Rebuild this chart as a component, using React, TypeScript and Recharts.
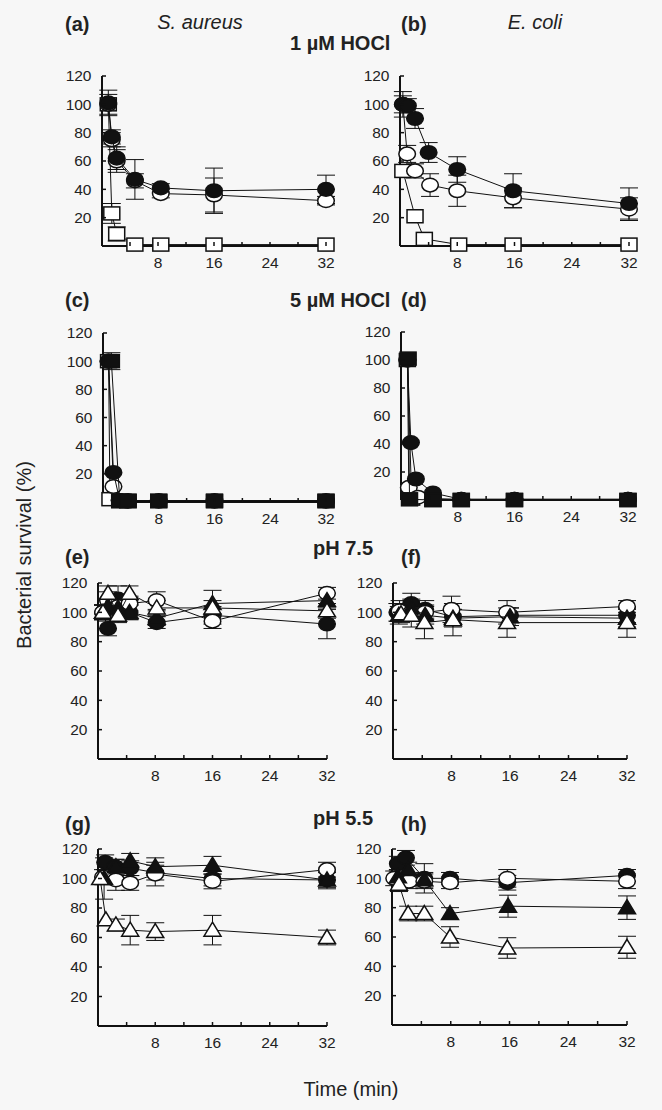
import React from 'react';
import { ScatterChart, Scatter, XAxis, YAxis, ErrorBar } from 'recharts';

type Pt = { t: number; v: number; e: number };
const mk = (t: number[], v: number[], e: number[]): Pt[] =>
  t.map((x, i) => ({ t: x, v: v[i], e: e[i] }));

// ---- tick labels ----
const xTickValues = [4, 8, 12, 16, 20, 24, 28, 32];
const xLabelValues = [8, 16, 24, 32];
const yTickValues = [20, 40, 60, 80, 100, 120];

// ---- (a) S. aureus, 1 µM HOCl ----
const aFilledCircle = mk([0.9, 1.4, 2.1, 4.7, 8.4, 16, 32], [101, 77, 62, 47, 41, 39, 40], [9, 5, 8, 14, 3, 16, 10]);
const aOpenCircle = mk([0.9, 1.4, 2.1, 4.7, 8.4, 16, 32], [100, 75, 60, 46, 37, 36, 32], [7, 5, 8, 5, 3, 12, 3]);
const aOpenSquare = mk([0.9, 1.4, 2.1, 4.7, 8.4, 16, 32], [100, 23, 8.5, 1, 1, 1, 1], [0, 7, 5, 0, 0, 0, 0]);

// ---- (b) E. coli, 1 µM HOCl ----
const bFilledCircle = mk([0.4, 1.1, 2.1, 4.0, 8.0, 15.8, 32], [100, 99, 90, 66, 54, 39, 30], [9, 5, 7, 7, 9, 12, 11]);
const bOpenCircle = mk([0.4, 1.0, 2.1, 4.2, 8.0, 15.8, 32], [100, 65, 53, 43, 39, 34, 26], [6, 6, 5, 8, 11, 7, 8]);
const bOpenSquare = mk([0.4, 2.1, 3.4, 8.2, 15.8, 32], [53, 21, 5, 1, 1, 1], [0, 0, 0, 0, 0, 0]);

// ---- (c) S. aureus, 5 µM HOCl ----
const cOpenSquare = mk([0.8, 1.0, 2.4, 3.6, 8, 16, 32], [100, 2, 0.5, 0.5, 0.5, 0.5, 0.5], [0, 0, 0, 0, 0, 0, 0]);
const cOpenCircle = mk([0.8, 1.5, 2.4, 3.6, 8, 16, 32], [100, 11, 1, 0.5, 0.5, 0.5, 0.5], [0, 0, 0, 0, 0, 0, 0]);
const cFilledCircle = mk([0.8, 1.5, 2.4, 3.6, 8, 16, 32], [100, 21, 1, 1, 1, 1, 1], [0, 0, 0, 0, 0, 0, 0]);
const cFilledSquare = mk([1.2, 2.4, 3.6, 8, 16, 32], [100, 1, 1, 1, 1, 1], [6, 0, 0, 0, 0, 0]);

// ---- (d) E. coli, 5 µM HOCl ----
const dOpenSquare = mk([0.9, 1.5, 4.5, 8.5, 16, 32], [100, 1, 0, 0, 0, 0], [0, 0, 0, 0, 0, 0]);
const dOpenCircle = mk([0.9, 1.1, 2.4, 4.5, 8.5, 16, 32], [100, 9, 2, 1, 0.5, 0.5, 0.5], [0, 0, 0, 0, 0, 0, 0]);
const dFilledCircle = mk([0.9, 1.4, 2.1, 4.5, 8.5, 16, 32], [100, 41, 15, 5, 0.5, 0.5, 0.5], [0, 0, 0, 0, 0, 0, 0]);
const dFilledSquare = mk([1.0, 1.2, 4.5, 8.5, 16, 32], [101, 0.5, 0, 0, 0, 0], [0, 0, 0, 0, 0, 0]);

// ---- (e) S. aureus, pH 7.5 ----
const eFilledCircle = mk([0.7, 1.4, 2.8, 4.4, 8.2, 16, 32], [100, 89, 109, 100, 93, 98, 92], [5, 5, 9, 5, 4, 6, 10]);
const eOpenCircle = mk([0.7, 1.4, 2.8, 4.4, 8.2, 16, 32], [100, 108, 104, 106, 108, 94, 113], [5, 6, 5, 5, 6, 5, 4]);
const eFilledTriangle = mk([0.7, 1.4, 2.8, 4.4, 8.2, 16, 32], [100, 104, 103, 100, 96, 106, 108], [5, 5, 5, 5, 5, 9, 5]);
const eOpenTriangle = mk([0.7, 1.4, 2.8, 4.4, 8.2, 16, 32], [100, 113, 98, 113, 103, 103, 101], [5, 5, 5, 5, 5, 5, 5]);

// ---- (f) E. coli, pH 7.5 ----
const fFilledCircle = mk([0.6, 2.5, 4.4, 8.2, 16, 32], [100, 106, 102, 97, 98, 98], [6, 7, 6, 5, 5, 5]);
const fOpenCircle = mk([0.9, 2.5, 4.4, 8, 15.6, 32], [101, 100, 100, 102, 100, 104], [7, 5, 5, 9, 8, 4]);
const fFilledTriangle = mk([0.8, 2.5, 4.4, 8.2, 16, 32], [98, 103, 98, 96, 97, 96], [6, 6, 6, 6, 6, 6]);
const fOpenTriangle = mk([1.1, 2.5, 4.3, 8.2, 15.6, 32], [99, 98, 93, 95, 93, 93], [6, 8, 11, 11, 10, 10]);

// ---- (g) S. aureus, pH 5.5 ----
const gFilledCircle = mk([1.0, 2.4, 4.5, 8, 16, 32], [111, 108, 107, 104, 100, 99], [5, 5, 5, 5, 5, 5]);
const gOpenCircle = mk([0.7, 2.5, 4.5, 8, 16, 32], [101, 99, 97, 103, 98, 106], [5, 7, 5, 8, 5, 5]);
const gFilledTriangle = mk([0.85, 2.5, 4.5, 8, 16, 32], [100, 108, 112, 108, 109, 99], [14, 5, 5, 6, 6, 6]);
const gOpenTriangle = mk([0.3, 1.1, 2.5, 4.5, 8, 16, 32], [100, 72, 68.5, 65, 64, 65, 60], [0, 0, 4, 10, 6, 10, 5]);

// ---- (h) E. coli, pH 5.5 ----
const hFilledCircle = mk([0.8, 1.9, 4.4, 7.9, 15.7, 32], [110, 114, 100, 100, 97, 102], [5, 5, 10, 4, 5, 4]);
const hOpenCircle = mk([0.3, 2.3, 4.4, 7.9, 15.7, 32], [100, 98, 98, 97, 100, 98], [5, 5, 5, 4, 6, 5]);
const hFilledTriangle = mk([0.8, 2.2, 4.4, 7.9, 15.8, 32], [101, 106, 99, 76, 81, 80], [5, 5, 5, 4, 7.5, 8]);
const hOpenTriangle = mk([0.95, 2.2, 4.4, 7.9, 15.7, 32], [96, 76, 76, 60, 52.5, 53], [5, 5, 5, 7, 7, 7.5]);

type Kind = 'circle' | 'square' | 'triangle';
type Series = { data: Pt[]; kind: Kind; filled: boolean };

const INK = '#111';
const FONT = '"Liberation Sans", Arial, sans-serif';

function Marker(props: any) {
  const { cx, cy, kind, filled } = props;
  if (cx == null || cy == null) return null;
  const fill = filled ? INK : '#fff';
  const common = { fill, stroke: INK, strokeWidth: 1.5 };
  if (kind === 'circle') return <ellipse cx={cx} cy={cy} rx={8.3} ry={6.8} {...common} />;
  if (kind === 'square') return <rect x={cx - 8} y={cy - 6.5} width={16} height={13} {...common} />;
  return <polygon points={`${cx},${cy - 8} ${cx + 8.5},${cy + 6} ${cx - 8.5},${cy + 6}`} {...common} />;
}

const Empty = () => <g />;

function XTick(props: any) {
  const { x, payload, axisY } = props;
  const v = payload.value;
  return (
    <g>
      <line x1={x} x2={x} y1={axisY} y2={axisY - 4} stroke={INK} strokeWidth={1.5} />
      {xLabelValues.includes(v) && (
        <text x={x} y={axisY + 17} dy="0.35em" textAnchor="middle" fontSize={15.5} fontFamily={FONT} fill="#222">
          {v}
        </text>
      )}
    </g>
  );
}

function YTick(props: any) {
  const { y, payload, axisX } = props;
  return (
    <g>
      <line x1={axisX} x2={axisX + 4} y1={y} y2={y} stroke={INK} strokeWidth={1.5} />
      <text x={axisX - 10.5} y={y} dy="0.35em" textAnchor="end" fontSize={15.5} fontFamily={FONT} fill="#222">
        {payload.value}
      </text>
    </g>
  );
}

function Panel({ px, py, pw, ph, series }: { px: number; py: number; pw: number; ph: number; series: Series[] }) {
  const ML = 50, MT = 14, MR = 20, XH = 30;
  const w = pw + ML + MR;
  const h = ph + MT + XH;
  const axisY = MT + ph;
  return (
    <div style={{ position: 'absolute', left: px - ML, top: py - MT }}>
      <ScatterChart width={w} height={h} margin={{ top: MT, right: MR, bottom: 0, left: 0 }}>
        <XAxis
          type="number"
          dataKey="t"
          domain={[0, 32]}
          ticks={xTickValues}
          interval={0}
          height={XH}
          tickLine={false}
          axisLine={{ stroke: INK, strokeWidth: 2 }}
          tick={<XTick axisY={axisY} />}
        />
        <YAxis
          type="number"
          dataKey="v"
          domain={[0, 120]}
          ticks={yTickValues}
          interval={0}
          width={ML}
          tickLine={false}
          axisLine={{ stroke: INK, strokeWidth: 2 }}
          tick={<YTick axisX={ML} />}
        />
        {series.map((s, i) => (
          <Scatter key={'eb' + i} data={s.data} isAnimationActive={false} shape={<Empty />}>
            <ErrorBar dataKey="e" direction="y" width={9} stroke={INK} strokeWidth={1} />
          </Scatter>
        ))}
        {series.map((s, i) => (
          <Scatter
            key={'s' + i}
            data={s.data}
            line={{ stroke: INK, strokeWidth: 1 }}
            isAnimationActive={false}
            shape={(p: any) => <Marker {...p} kind={s.kind} filled={s.filled} />}
          />
        ))}
      </ScatterChart>
    </div>
  );
}

const S = (data: Pt[], kind: Kind, filled: boolean): Series => ({ data, kind, filled });

export default function App() {
  const txt = { fontFamily: FONT, fill: '#222' } as const;
  return (
    <div style={{ position: 'absolute', left: 0, top: 0, width: 662, height: 1110, background: '#f7f7f7', overflow: 'hidden' }}>
      <svg width={662} height={1110} style={{ position: 'absolute', left: 0, top: 0 }}>
        <g {...txt} fontSize={20}>
          <text x={65} y={31} fontWeight="bold">(a)</text>
          <text x={200} y={29} textAnchor="middle" fontStyle="italic">S. aureus</text>
          <text x={290} y={50} fontWeight="bold">1 µM HOCl</text>
          <text x={401} y={31} fontWeight="bold">(b)</text>
          <text x={535} y={29} textAnchor="middle" fontStyle="italic">E. coli</text>

          <text x={65} y={307} fontWeight="bold">(c)</text>
          <text x={290} y={307} fontWeight="bold">5 µM HOCl</text>
          <text x={401} y={307} fontWeight="bold">(d)</text>

          <text x={65} y={564} fontWeight="bold">(e)</text>
          <text x={313} y={555} fontWeight="bold">pH 7.5</text>
          <text x={401} y={564} fontWeight="bold">(f)</text>

          <text x={65} y={831} fontWeight="bold">(g)</text>
          <text x={313} y={825} fontWeight="bold">pH 5.5</text>
          <text x={401} y={831} fontWeight="bold">(h)</text>

          <text transform="translate(31,555) rotate(-90)" textAnchor="middle">Bacterial survival (%)</text>
          <text x={351} y={1096} textAnchor="middle">Time (min)</text>
        </g>
      </svg>

      <Panel px={102} py={76} pw={224} ph={170} series={[S(aOpenSquare, 'square', false), S(aOpenCircle, 'circle', false), S(aFilledCircle, 'circle', true)]} />
      <Panel px={400} py={76} pw={229} ph={170} series={[S(bOpenSquare, 'square', false), S(bOpenCircle, 'circle', false), S(bFilledCircle, 'circle', true)]} />
      <Panel px={103} py={333} pw={223} ph={169} series={[S(cOpenSquare, 'square', false), S(cOpenCircle, 'circle', false), S(cFilledCircle, 'circle', true), S(cFilledSquare, 'square', true)]} />
      <Panel px={401} py={332} pw={227} ph={168} series={[S(dOpenSquare, 'square', false), S(dOpenCircle, 'circle', false), S(dFilledCircle, 'circle', true), S(dFilledSquare, 'square', true)]} />
      <Panel px={98} py={583} pw={229} ph={176} series={[S(eFilledCircle, 'circle', true), S(eOpenCircle, 'circle', false), S(eFilledTriangle, 'triangle', true), S(eOpenTriangle, 'triangle', false)]} />
      <Panel px={393} py={583} pw={234} ph={176} series={[S(fFilledCircle, 'circle', true), S(fOpenCircle, 'circle', false), S(fFilledTriangle, 'triangle', true), S(fOpenTriangle, 'triangle', false)]} />
      <Panel px={98} py={849} pw={229} ph={177} series={[S(gFilledCircle, 'circle', true), S(gOpenCircle, 'circle', false), S(gFilledTriangle, 'triangle', true), S(gOpenTriangle, 'triangle', false)]} />
      <Panel px={392} py={849} pw={235} ph={176} series={[S(hFilledCircle, 'circle', true), S(hOpenCircle, 'circle', false), S(hFilledTriangle, 'triangle', true), S(hOpenTriangle, 'triangle', false)]} />
    </div>
  );
}
